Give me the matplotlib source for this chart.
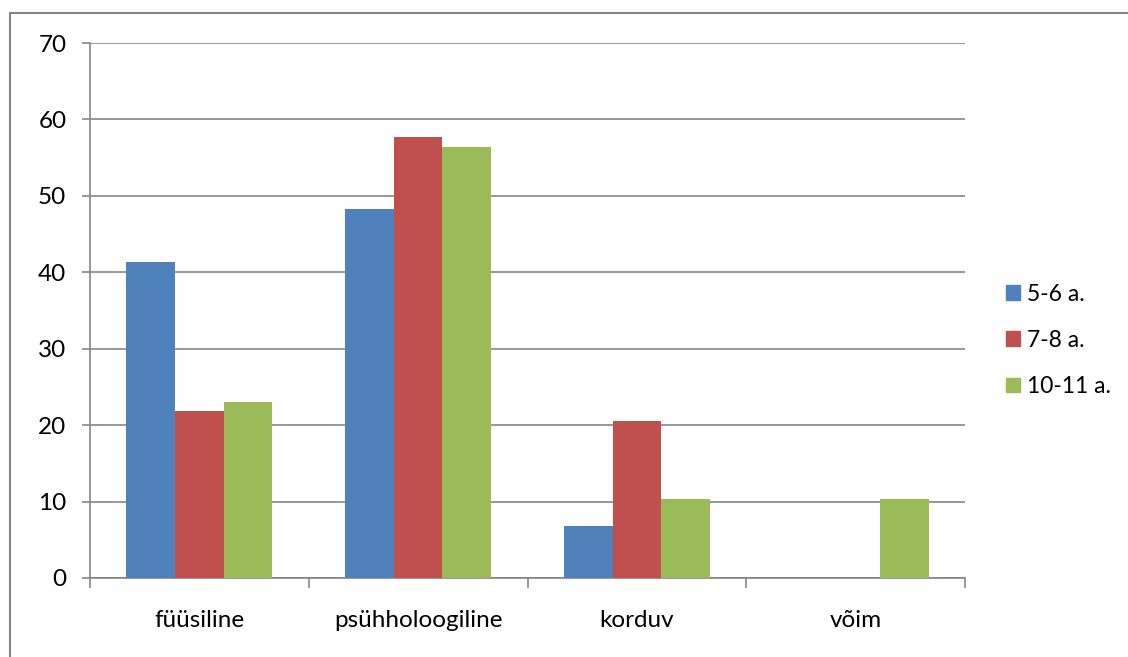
import numpy as np
import matplotlib
matplotlib.use("Agg")
import matplotlib.pyplot as plt
from matplotlib.patches import Rectangle, Patch

# data
categories = ["füüsiline", "psühholoogiline", "korduv", "võim"]
series_names = ["5-6 a.", "7-8 a.", "10-11 a."]
vals_56 = [41.3, 48.3, 6.8, 0]
vals_78 = [21.8, 57.7, 20.5, 0]
vals_1011 = [23.0, 56.4, 10.3, 10.3]
colors = ["#4F81BD", "#C0504D", "#9BBB59"]

plt.rcParams['font.family'] = ['Lato', 'DejaVu Sans']
W, H = 1128, 657
fig = plt.figure(figsize=(W / 100, H / 100), dpi=100)
ax = fig.add_axes([90 / W, 1 - 578 / H, (965 - 90) / W, (578 - 43) / H])

grey = "#868686"
x = np.arange(len(categories))
bw = 1 / 4.5
for i, (vals, c, name) in enumerate(zip([vals_56, vals_78, vals_1011], colors, series_names)):
    ax.bar(x + (i - 1) * bw, vals, bw, color=c, label=name, zorder=3)

ax.set_xlim(-0.5, 3.5)
ax.set_ylim(0, 70)
ax.set_yticks(range(0, 71, 10))
ax.yaxis.grid(True, color=grey, linewidth=1.2, zorder=0)
ax.set_xticks(x)
ax.set_xticklabels(categories, fontsize=17.5)
ax.tick_params(axis='x', length=0, pad=23)
ax.set_xticks(np.arange(-0.5, 4, 1), minor=True)
ax.tick_params(axis='x', which='minor', length=7, color=grey, width=1.2)
ax.tick_params(axis='y', length=6, color=grey, width=1.2, labelsize=17.5, pad=11)
for s in ['top', 'right']:
    ax.spines[s].set_visible(False)
for s in ['left', 'bottom']:
    ax.spines[s].set_color(grey)
    ax.spines[s].set_linewidth(1.2)

handles = [Patch(color=c) for c in colors]
leg = fig.legend(handles, series_names, loc='upper left', bbox_to_anchor=(985 / W, 1 - 263 / H),
                 frameon=False, fontsize=16.5, handlelength=0.62, handleheight=0.62,
                 handletextpad=0.3, labelspacing=1.1)

# outer chart border
fig.patches.append(Rectangle((10 / W, -0.05), 1.1, 1 - 13 / H + 0.05, transform=fig.transFigure,
                             fill=False, edgecolor=grey, linewidth=1.5))

fig.savefig("out.png", dpi=100)
